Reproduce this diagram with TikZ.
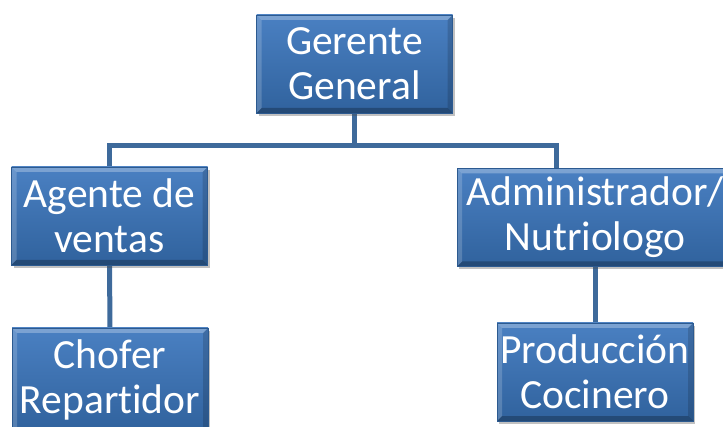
\documentclass[tikz,border=0pt]{standalone}
\usepackage{fontspec}
\setmainfont{Carlito}[Ligatures={NoCommon}]
\usetikzlibrary{shadows,backgrounds}

\definecolor{boxtop}{HTML}{4A80C2}
\definecolor{boxbottom}{HTML}{30629D}
\definecolor{boxedge}{HTML}{2C5A90}
\definecolor{linkcol}{HTML}{3E6A9B}

\tikzset{
  orgbox/.style={
    rectangle, inner sep=0pt, minimum width=196pt, minimum height=98pt,
    top color=boxtop, bottom color=boxbottom, draw=boxedge, line width=0.6pt,
    text=white, align=center, font=\fontsize{41.5}{45}\selectfont,
    drop shadow={shadow xshift=2pt, shadow yshift=-3pt, opacity=0.35, fill=black!70},
    path picture={
      % bevelled rim: light on top/left, dark on bottom/right
      \fill[white,opacity=0.28]
        (path picture bounding box.north west) -- (path picture bounding box.north east)
        -- ([xshift=-5pt,yshift=-5pt]path picture bounding box.north east)
        -- ([xshift=5pt,yshift=-5pt]path picture bounding box.north west) -- cycle;
      \fill[white,opacity=0.18]
        (path picture bounding box.north west) -- ([xshift=5pt,yshift=-5pt]path picture bounding box.north west)
        -- ([xshift=5pt,yshift=5pt]path picture bounding box.south west)
        -- (path picture bounding box.south west) -- cycle;
      \fill[black,opacity=0.25]
        (path picture bounding box.south west) -- (path picture bounding box.south east)
        -- ([xshift=-5pt,yshift=5pt]path picture bounding box.south east)
        -- ([xshift=5pt,yshift=5pt]path picture bounding box.south west) -- cycle;
      \fill[black,opacity=0.15]
        (path picture bounding box.north east) -- ([xshift=-5pt,yshift=-5pt]path picture bounding box.north east)
        -- ([xshift=-5pt,yshift=5pt]path picture bounding box.south east)
        -- (path picture bounding box.south east) -- cycle;
    }
  },
  link/.style={draw=linkcol, line width=5pt}
}

\begin{document}
\begin{tikzpicture}[x=1pt,y=1pt]
  \useasboundingbox (0,0) rectangle (723,426);

  % boxes
  \node[orgbox] (gg) at (354.5,362) {Gerente\\General};
  \node[orgbox] (av) at (109.5,210) {Agente de\\ventas};
  \node[orgbox, minimum width=276pt] (an) at (595,208.5) {Administrador/\\Nutriologo};
  \node[orgbox, minimum height=104pt] (cr) at (110,46) {Chofer\\Repartidor};
  \node[orgbox] (pc) at (595,54) {Producción\\Cocinero};

  % junction points of the tree
  \coordinate (bus) at (354.5,280);
  \coordinate (antop) at (556,257.5);

  % connectors
  \begin{scope}[on background layer]
    \draw[link] (gg.south) -- (bus);
    \draw[link] (bus) -| (av.north);
    \draw[link] (bus) -| (antop);
    \draw[link] (av.south) -- (cr.north);
    \draw[link] (an.south) -- (pc.north);
  \end{scope}
\end{tikzpicture}
\end{document}
